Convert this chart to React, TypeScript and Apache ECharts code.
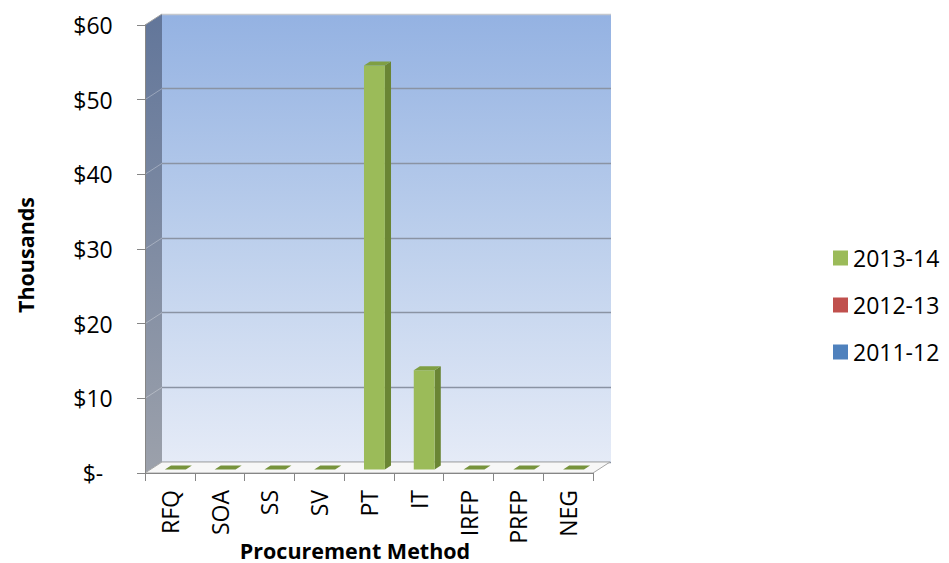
import React, { useEffect, useRef } from 'react';
import * as echarts from 'echarts';

const categories = ['RFQ', 'SOA', 'SS', 'SV', 'PT', 'IT', 'IRFP', 'PRFP', 'NEG'];
const values2013_14 = [0, 0, 0, 0, 54.1, 13.3, 0, 0, 0];
const values2012_13 = [null, null, null, null, null, null, null, null, null];
const values2011_12 = [null, null, null, null, null, null, null, null, null];
const seriesNames = ['2013-14', '2012-13', '2011-12'];
const seriesColors = ['#9bbb59', '#c0504d', '#4f81bd'];
const yTicks = [0, 10, 20, 30, 40, 50, 60];

const FONT = 'Open Sans';
const DX = 17;
const DY = -11;
const FRONT = 0.32;
const DEPTH = 0.36;
const BAR_RATIO = 0.42;

const yMin = yTicks[0];
const yMax = yTicks[yTicks.length - 1];
const yStep = yTicks[1] - yTicks[0];

function makeBarRenderer(front: string, side: string, top: string, flat: string) {
  return (params: any, api: any) => {
    const v = api.value(1);
    if (v === null || v === undefined || isNaN(v)) return null;
    const i = api.value(0);
    const band = api.size([1, 0])[0];
    const pTop = api.coord([i, v]);
    const pBase = api.coord([i, 0]);
    const w = band * BAR_RATIO;
    const fx = FRONT * DX, fy = FRONT * DY;
    const bx = DEPTH * DX, by = DEPTH * DY;
    const x0 = pTop[0] - w / 2 + fx;
    const x1 = x0 + w;
    const yt = pTop[1] + fy;
    const yb = pBase[1] + fy;
    const children: any[] = [];
    const h = yb - yt;
    if (h > 0.5) {
      children.push({
        type: 'polygon',
        shape: { points: [[x1, yt], [x1 + bx, yt + by], [x1 + bx, yb + by], [x1, yb]] },
        style: { fill: side },
      });
      children.push({
        type: 'rect',
        shape: { x: x0, y: yt, width: w, height: h },
        style: { fill: front },
      });
    }
    children.push({
      type: 'polygon',
      shape: { points: [[x0, yt], [x1, yt], [x1 + bx, yt + by], [x0 + bx, yt + by]] },
      style: { fill: h > 0.5 ? top : flat },
    });
    return { type: 'group', children };
  };
}

function renderWalls(params: any, api: any) {
  const band = api.size([1, 0])[0];
  const xl = api.coord([0, 0])[0] - band / 2;
  const xr = api.coord([categories.length - 1, 0])[0] + band / 2;
  const yb = api.coord([0, yMin])[1];
  const yt = api.coord([0, yMax])[1];
  const children: any[] = [];
  children.push({
    type: 'polygon',
    shape: { points: [[xl, yb], [xl, yt], [xl + DX, yt + DY], [xl + DX, yb + DY]] },
    style: {
      fill: new echarts.graphic.LinearGradient(0, 0, 0, 1, [
        { offset: 0, color: '#62769a' },
        { offset: 1, color: '#9ca1ab' },
      ]),
    },
  });
  yTicks.forEach((t) => {
    if (t === yMin || t === yMax) return;
    const y = api.coord([0, t])[1];
    children.push({
      type: 'line',
      shape: { x1: xl, y1: y, x2: xl + DX, y2: y + DY },
      style: { stroke: 'rgba(255,255,255,0.3)', lineWidth: 1 },
    });
  });
  children.push({
    type: 'line',
    shape: { x1: xl, y1: yt, x2: xl + DX, y2: yt + DY },
    style: { stroke: '#a0a0a0', lineWidth: 1 },
  });
  children.push({
    type: 'polygon',
    shape: { points: [[xl, yb], [xr, yb], [xr + DX, yb + DY], [xl + DX, yb + DY]] },
    style: { fill: '#f7f7f7', stroke: '#a6a6a6', lineWidth: 1 },
  });
  return { type: 'group', children };
}

export default function App() {
  const ref = useRef<HTMLDivElement>(null);
  useEffect(() => {
    const chart = echarts.init(ref.current!, null, { renderer: 'svg' });
    const labelStyle = { fontFamily: FONT, fontSize: 23, color: '#000' };
    const option: any = {
      animation: false,
      backgroundColor: '#ffffff',
      textStyle: { fontFamily: FONT },
      grid: [
        { left: 145, top: 25, width: 448, height: 448, show: false },
        {
          left: 162, top: 14, width: 449, height: 448, show: true, borderWidth: 0,
          backgroundColor: new echarts.graphic.LinearGradient(0, 0, 0, 1, [
            { offset: 0, color: '#94b2e2' },
            { offset: 0.5, color: '#bccfec' },
            { offset: 1, color: '#e5ebf7' },
          ]),
        },
      ],
      xAxis: [
        {
          type: 'category', gridIndex: 0, data: categories, z: 10,
          axisLine: { show: true, lineStyle: { color: '#868686', width: 1 } },
          axisTick: { show: true, interval: 0, length: 8, lineStyle: { color: '#868686' } },
          axisLabel: { ...labelStyle, interval: 0, rotate: 90, margin: 17 },
        },
        {
          type: 'category', gridIndex: 1, data: categories, show: false,
        },
      ],
      yAxis: [
        {
          type: 'value', gridIndex: 0, min: yMin, max: yMax, interval: yStep, z: 10,
          axisLine: { show: true, lineStyle: { color: '#868686', width: 1 } },
          axisTick: { show: true, length: 8, lineStyle: { color: '#868686' } },
          splitLine: { show: false },
          axisLabel: {
            ...labelStyle, align: 'center', margin: 52,
            formatter: (v: number) => (v === 0 ? '$-' : '$' + v),
          },
        },
        {
          type: 'value', gridIndex: 1, min: yMin, max: yMax, interval: yStep,
          axisLine: { show: false }, axisTick: { show: false }, axisLabel: { show: false },
          splitLine: {
            show: true,
            lineStyle: {
              color: ['#8a93a3', '#8a93a3', '#8a93a3', '#8a93a3', '#8a93a3', '#8a93a3', '#c4c8ce'],
              width: 1.3,
            },
          },
        },
      ],
      legend: {
        data: seriesNames,
        orient: 'vertical',
        left: 828,
        top: 241,
        icon: 'rect',
        itemWidth: 15,
        itemHeight: 15,
        itemGap: 23,
        textStyle: { ...labelStyle, lineHeight: 24 },
      },
      graphic: [
        {
          type: 'text', x: 25, y: 255, rotation: Math.PI / 2,
          style: { text: 'Thousands', font: `bold 21.5px "${FONT}"`, fill: '#000', align: 'center', verticalAlign: 'middle' },
        },
        {
          type: 'text', x: 355, y: 550,
          style: { text: 'Procurement Method', font: `bold 21.5px "${FONT}"`, fill: '#000', align: 'center', verticalAlign: 'middle' },
        },
      ],
      series: [
        {
          type: 'custom', name: 'walls', xAxisIndex: 0, yAxisIndex: 0, z: 1,
          renderItem: renderWalls, data: [[0, 0]], silent: true,
        },
        {
          type: 'custom', name: seriesNames[0], xAxisIndex: 0, yAxisIndex: 0, z: 3,
          itemStyle: { color: seriesColors[0] },
          renderItem: makeBarRenderer('#9bbb59', '#6a8534', '#7f9f43', '#77933c'),
          encode: { x: 0, y: 1 },
          data: values2013_14.map((v, i) => [i, v]),
        },
        {
          type: 'custom', name: seriesNames[1], xAxisIndex: 0, yAxisIndex: 0, z: 3,
          itemStyle: { color: seriesColors[1] },
          renderItem: makeBarRenderer('#c0504d', '#8c3836', '#a64542', '#a64542'),
          encode: { x: 0, y: 1 },
          data: values2012_13.map((v, i) => [i, v]),
        },
        {
          type: 'custom', name: seriesNames[2], xAxisIndex: 0, yAxisIndex: 0, z: 3,
          itemStyle: { color: seriesColors[2] },
          renderItem: makeBarRenderer('#4f81bd', '#385d8a', '#4470a6', '#4470a6'),
          encode: { x: 0, y: 1 },
          data: values2011_12.map((v, i) => [i, v]),
        },
      ],
    };
    chart.setOption(option);
    return () => chart.dispose();
  }, []);
  return (
    <div
      ref={ref}
      style={{ position: 'absolute', left: 0, top: 0, width: 949, height: 563, background: '#fff' }}
    />
  );
}
